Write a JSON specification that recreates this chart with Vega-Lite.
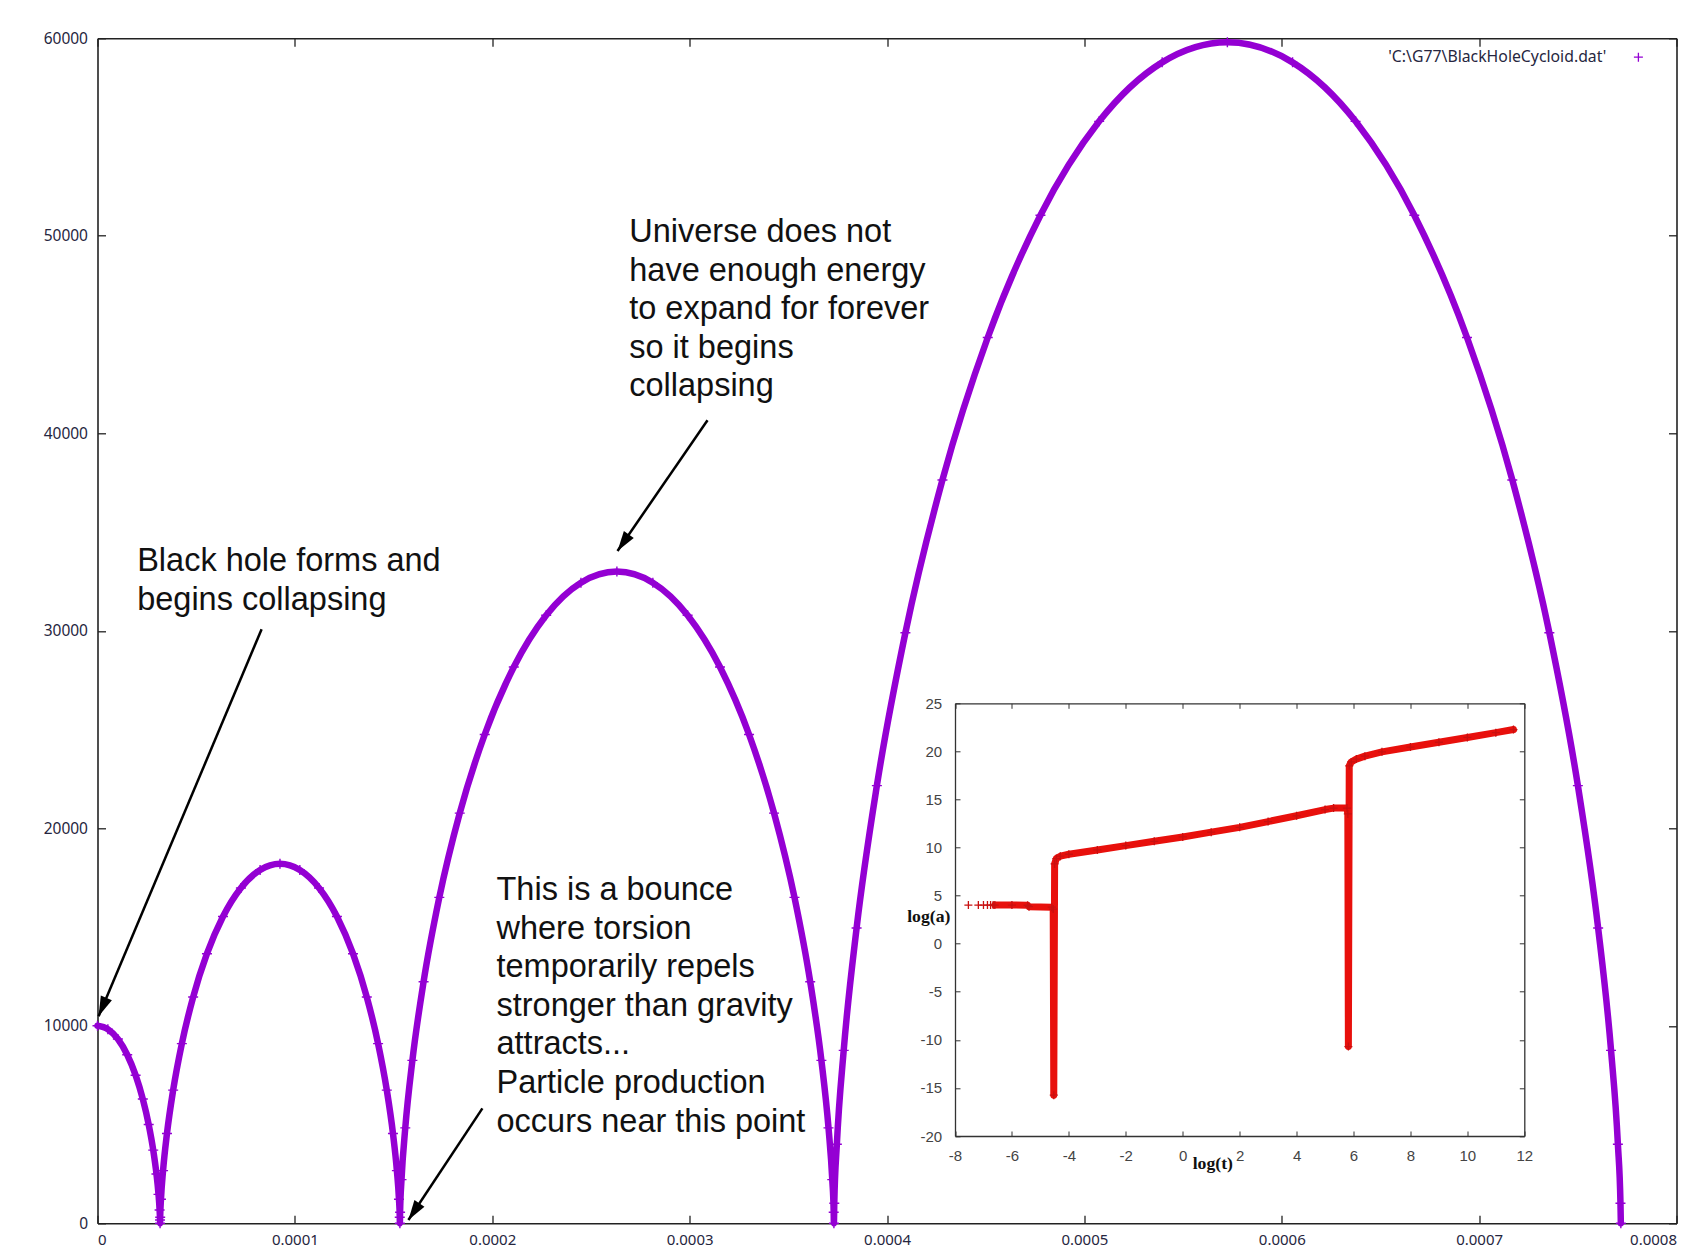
{
  "$schema": "https://vega.github.io/schema/vega-lite/v6.json",
  "width": 1579,
  "height": 1185,
  "autosize": {"type": "none"},
  "padding": {"left": 97.5, "top": 38.3, "right": 4.5, "bottom": 26.7},
  "background": "white",
  "config": {"view": {"stroke": null}, "axis": {"grid": false}},
  "datasets": {
    "cycloid": [
      {"t": 0, "a": 10000}, {"t": 5.253e-6, "a": 9829.6}, {"t": 1.0328e-5, "a": 9330.1}, {"t": 1.506e-5, "a": 8535.5},
      {"t": 1.9305e-5, "a": 7500}, {"t": 2.2955e-5, "a": 6294.1}, {"t": 2.594e-5, "a": 5000}, {"t": 2.8238e-5, "a": 3705.9},
      {"t": 2.9872e-5, "a": 2500}, {"t": 3.091e-5, "a": 1464.5}, {"t": 3.1462e-5, "a": 669.9}, {"t": 3.167e-5, "a": 170.4},
      {"t": 3.17e-5, "a": 0},
      {"t": 3.1758e-5, "a": 310.1}, {"t": 3.2156e-5, "a": 1219.2}, {"t": 3.3214e-5, "a": 2665.3}, {"t": 3.5203e-5, "a": 4550},
      {"t": 3.8334e-5, "a": 6744.7}, {"t": 4.2738e-5, "a": 9100}, {"t": 4.8459e-5, "a": 11455.3}, {"t": 5.5453e-5, "a": 13650},
      {"t": 6.3589e-5, "a": 15534.7}, {"t": 7.2656e-5, "a": 16980.8}, {"t": 8.2383e-5, "a": 17889.9}, {"t": 9.245e-5, "a": 18200},
      {"t": 1.02517e-4, "a": 17889.9}, {"t": 1.12244e-4, "a": 16980.8}, {"t": 1.21311e-4, "a": 15534.7}, {"t": 1.29447e-4, "a": 13650},
      {"t": 1.36441e-4, "a": 11455.3}, {"t": 1.42162e-4, "a": 9100}, {"t": 1.46566e-4, "a": 6744.7}, {"t": 1.49697e-4, "a": 4550},
      {"t": 1.51686e-4, "a": 2665.3}, {"t": 1.52744e-4, "a": 1219.2}, {"t": 1.53142e-4, "a": 310.1}, {"t": 1.532e-4, "a": 0},
      {"t": 1.53304e-4, "a": 562.2}, {"t": 1.54026e-4, "a": 2210.6}, {"t": 1.5594e-4, "a": 4832.8}, {"t": 1.59541e-4, "a": 8250},
      {"t": 1.65207e-4, "a": 12229.5}, {"t": 1.73177e-4, "a": 16500}, {"t": 1.83532e-4, "a": 20770.5}, {"t": 1.96191e-4, "a": 24750},
      {"t": 2.10915e-4, "a": 28167.2}, {"t": 2.27326e-4, "a": 30789.4}, {"t": 2.44929e-4, "a": 32437.8}, {"t": 2.6315e-4, "a": 33000},
      {"t": 2.81371e-4, "a": 32437.8}, {"t": 2.98974e-4, "a": 30789.4}, {"t": 3.15385e-4, "a": 28167.2}, {"t": 3.30109e-4, "a": 24750},
      {"t": 3.42768e-4, "a": 20770.5}, {"t": 3.53123e-4, "a": 16500}, {"t": 3.61093e-4, "a": 12229.5}, {"t": 3.66759e-4, "a": 8250},
      {"t": 3.7036e-4, "a": 4832.8}, {"t": 3.72274e-4, "a": 2210.6}, {"t": 3.72996e-4, "a": 562.2}, {"t": 3.731e-4, "a": 0},
      {"t": 3.73289e-4, "a": 1018.8}, {"t": 3.74598e-4, "a": 4005.8}, {"t": 3.78068e-4, "a": 8757.5}, {"t": 3.84596e-4, "a": 14950},
      {"t": 3.9487e-4, "a": 22161.3}, {"t": 4.0932e-4, "a": 29900}, {"t": 4.28095e-4, "a": 37638.7}, {"t": 4.51046e-4, "a": 44850},
      {"t": 4.77743e-4, "a": 51042.5}, {"t": 5.07498e-4, "a": 55794.2}, {"t": 5.39414e-4, "a": 58781.2}, {"t": 5.7245e-4, "a": 59800},
      {"t": 6.05486e-4, "a": 58781.2}, {"t": 6.37402e-4, "a": 55794.2}, {"t": 6.67157e-4, "a": 51042.5}, {"t": 6.93854e-4, "a": 44850},
      {"t": 7.16805e-4, "a": 37638.7}, {"t": 7.3558e-4, "a": 29900}, {"t": 7.5003e-4, "a": 22161.3}, {"t": 7.60304e-4, "a": 14950},
      {"t": 7.66832e-4, "a": 8757.5}, {"t": 7.70302e-4, "a": 4005.8}, {"t": 7.71611e-4, "a": 1018.8}, {"t": 7.718e-4, "a": 0}
    ],
    "inset": [
      {"lt": -7.53, "la": 4.02}, {"lt": -7.18, "la": 4.02}, {"lt": -7.0, "la": 4.02}, {"lt": -6.86, "la": 4.02},
      {"lt": -6.75, "la": 4.02}, {"lt": -6.66, "la": 4.02},
      {"lt": -6.6, "la": 4.02}, {"lt": -6.0, "la": 4.02}, {"lt": -5.45, "la": 4.0}, {"lt": -5.4, "la": 3.85},
      {"lt": -4.6, "la": 3.8}, {"lt": -4.55, "la": 3.6}, {"lt": -4.53, "la": -15.75}, {"lt": -4.5, "la": 8.3},
      {"lt": -4.44, "la": 8.85}, {"lt": -4.3, "la": 9.1}, {"lt": -4.0, "la": 9.3}, {"lt": -3, "la": 9.75},
      {"lt": -2, "la": 10.2}, {"lt": -1, "la": 10.65}, {"lt": 0, "la": 11.1}, {"lt": 1, "la": 11.6},
      {"lt": 2, "la": 12.1}, {"lt": 3, "la": 12.7}, {"lt": 4, "la": 13.3}, {"lt": 5, "la": 13.95},
      {"lt": 5.3, "la": 14.1}, {"lt": 5.77, "la": 14.1}, {"lt": 5.8, "la": 13.5}, {"lt": 5.82, "la": -10.7},
      {"lt": 5.85, "la": 18.5}, {"lt": 5.92, "la": 18.9}, {"lt": 6.1, "la": 19.2}, {"lt": 6.4, "la": 19.5},
      {"lt": 7, "la": 19.95}, {"lt": 8, "la": 20.45}, {"lt": 9, "la": 20.95}, {"lt": 10, "la": 21.45},
      {"lt": 11, "la": 21.95}, {"lt": 11.62, "la": 22.27}
    ]
  },
  "layer": [
    {
      "data": {"name": "cycloid"},
      "layer": [
        {
          "mark": {"type": "line", "color": "#9400d3", "strokeWidth": 6.5, "interpolate": "monotone", "strokeCap": "round", "strokeJoin": "round"},
          "encoding": {
            "x": {"field": "t", "type": "quantitative",
              "scale": {"domain": [0, 0.0008], "nice": false, "zero": false},
              "axis": {"orient": "bottom", "values": [0, 0.0001, 0.0002, 0.0003, 0.0004, 0.0005, 0.0006, 0.0007, 0.0008],
                "format": "~g", "title": null, "tickSize": -8, "labelPadding": 17, "labelFont": "Noto Sans", "labelFontSize": 15,
                "labelColor": "#262640", "domainColor": "#222222", "domainWidth": 1.6, "tickColor": "#222222", "tickWidth": 1.3,
                "labelFlush": true, "labelOverlap": false}},
            "y": {"field": "a", "type": "quantitative",
              "scale": {"domain": [0, 60000], "nice": false, "zero": false},
              "axis": {"orient": "left", "values": [0, 10000, 20000, 30000, 40000, 50000, 60000],
                "format": "d", "title": null, "tickSize": -8, "labelPadding": 18, "labelFont": "Noto Sans", "labelFontSize": 15.5,
                "labelColor": "#262640", "domainColor": "#222222", "domainWidth": 1.6, "tickColor": "#222222", "tickWidth": 1.3,
                "labelFlush": false, "labelOverlap": false}}
          }
        },
        {
          "mark": {"type": "point", "shape": "M-1,0H1M0,-1V1", "filled": false, "size": 100, "strokeWidth": 1.4, "opacity": 1},
          "encoding": {
            "x": {"field": "t", "type": "quantitative",
              "scale": {"domain": [0, 0.0008], "nice": false, "zero": false},
              "axis": {"orient": "top", "values": [0, 0.0001, 0.0002, 0.0003, 0.0004, 0.0005, 0.0006, 0.0007, 0.0008],
                "labels": false, "title": null, "tickSize": -8, "domainColor": "#222222", "domainWidth": 1.6, "tickColor": "#222222", "tickWidth": 1.3}},
            "y": {"field": "a", "type": "quantitative",
              "scale": {"domain": [0, 60000], "nice": false, "zero": false},
              "axis": {"orient": "right", "values": [0, 10000, 20000, 30000, 40000, 50000, 60000],
                "labels": false, "title": null, "tickSize": -8, "domainColor": "#222222", "domainWidth": 1.6, "tickColor": "#222222", "tickWidth": 1.3}},
            "color": {"datum": "'C:\\G77\\BlackHoleCycloid.dat'", "type": "nominal",
              "scale": {"range": ["#9400d3"]},
              "legend": {"orient": "none", "legendX": 1533, "legendY": 11, "title": null, "padding": 0,
                "labelAlign": "right", "labelOffset": -40, "labelFont": "Noto Sans", "labelFontSize": 15.8,
                "labelColor": "#262640", "labelLimit": 400, "symbolType": "M-1,0H1M0,-1V1", "symbolSize": 81,
                "symbolStrokeWidth": 1.3, "symbolStrokeColor": "#9400d3", "symbolFillColor": "transparent"}}
          }
        },
        {
          "data": {"values": [{}]},
          "mark": {"type": "text", "text": ["Black hole forms and", "begins collapsing"], "align": "left", "baseline": "alphabetic",
            "font": "Liberation Sans", "fontSize": 32.5, "lineHeight": 38.6, "color": "#111111"},
          "encoding": {"x": {"datum": 2.01e-5, "type": "quantitative", "axis": null}, "y": {"datum": 33027, "type": "quantitative", "axis": null}}
        },
        {
          "data": {"values": [{}]},
          "mark": {"type": "text", "text": ["Universe does not", "have enough energy", "to expand for forever", "so it begins", "collapsing"],
            "align": "left", "baseline": "alphabetic", "font": "Liberation Sans", "fontSize": 32.5, "lineHeight": 38.6, "color": "#111111"},
          "encoding": {"x": {"datum": 2.694e-4, "type": "quantitative", "axis": null}, "y": {"datum": 49687, "type": "quantitative", "axis": null}}
        },
        {
          "data": {"values": [{}]},
          "mark": {"type": "text", "text": ["This is a bounce", "where torsion", "temporarily repels", "stronger than gravity", "attracts...", "Particle production", "occurs near this point"],
            "align": "left", "baseline": "alphabetic", "font": "Liberation Sans", "fontSize": 32.5, "lineHeight": 38.6, "color": "#111111"},
          "encoding": {"x": {"datum": 2.0215e-4, "type": "quantitative", "axis": null}, "y": {"datum": 16370, "type": "quantitative", "axis": null}}
        },
        {
          "data": {"values": [{}]},
          "mark": {"type": "rule", "color": "#000000", "strokeWidth": 2.5},
          "encoding": {"x": {"datum": 8.314e-5, "type": "quantitative", "axis": null}, "y": {"datum": 30076, "type": "quantitative", "axis": null},
            "x2": {"datum": 5.6e-7}, "y2": {"datum": 10481}}
        },
        {
          "data": {"values": [{}]},
          "mark": {"type": "rule", "color": "#000000", "strokeWidth": 2.5},
          "encoding": {"x": {"datum": 3.0906e-4, "type": "quantitative", "axis": null}, "y": {"datum": 40663, "type": "quantitative", "axis": null},
            "x2": {"datum": 2.6346e-4}, "y2": {"datum": 34041}}
        },
        {
          "data": {"values": [{}]},
          "mark": {"type": "rule", "color": "#000000", "strokeWidth": 2.5},
          "encoding": {"x": {"datum": 1.9501e-4, "type": "quantitative", "axis": null}, "y": {"datum": 5818, "type": "quantitative", "axis": null},
            "x2": {"datum": 1.5752e-4}, "y2": {"datum": 167}}
        },
        {
          "data": {"values": [{}]},
          "mark": {"type": "point", "shape": "M0,0L0.6,2L-0.6,2Z", "filled": true, "color": "#000000", "size": 400, "angle": 202.8, "opacity": 1, "strokeWidth": 0},
          "encoding": {"x": {"datum": 5.6e-7, "type": "quantitative", "axis": null}, "y": {"datum": 10481, "type": "quantitative", "axis": null}}
        },
        {
          "data": {"values": [{}]},
          "mark": {"type": "point", "shape": "M0,0L0.6,2L-0.6,2Z", "filled": true, "color": "#000000", "size": 400, "angle": 214.5, "opacity": 1, "strokeWidth": 0},
          "encoding": {"x": {"datum": 2.6346e-4, "type": "quantitative", "axis": null}, "y": {"datum": 34041, "type": "quantitative", "axis": null}}
        },
        {
          "data": {"values": [{}]},
          "mark": {"type": "point", "shape": "M0,0L0.6,2L-0.6,2Z", "filled": true, "color": "#000000", "size": 400, "angle": 213.5, "opacity": 1, "strokeWidth": 0},
          "encoding": {"x": {"datum": 1.5752e-4, "type": "quantitative", "axis": null}, "y": {"datum": 167, "type": "quantitative", "axis": null}}
        }
      ],
      "resolve": {"axis": {"x": "independent", "y": "independent"}}
    },
    {
      "data": {"name": "inset"},
      "layer": [
        {
          "transform": [{"filter": "datum.lt >= -6.6"}],
          "mark": {"type": "line", "color": "#e8100c", "strokeWidth": 7, "interpolate": "linear", "strokeCap": "round", "strokeJoin": "round"},
          "encoding": {
            "x": {"field": "lt", "type": "quantitative",
              "scale": {"domain": [-8, 12], "nice": false, "zero": false, "range": [857.5, 1426.8]},
              "axis": {"orient": "bottom", "offset": -87.3, "values": [-8, -6, -4, -2, 0, 2, 4, 6, 8, 10, 12],
                "labelExpr": "'' + datum.value",
                "tickSize": -5, "labelPadding": 17, "labelFont": "Liberation Sans", "labelFontSize": 15, "labelColor": "#444444",
                "domainColor": "#333333", "domainWidth": 1.3, "tickColor": "#333333", "tickWidth": 1,
                "labelFlush": false, "labelOverlap": false,
                "title": "log(t)", "titleFont": "Liberation Serif", "titleFontWeight": "bold", "titleFontSize": 17.7, "titleColor": "#111111",
                "titleX": 1114.8, "titleY": 27.3, "titleAlign": "center", "titleBaseline": "middle", "titleAngle": 0}},
            "y": {"field": "la", "type": "quantitative",
              "scale": {"domain": [-20, 25], "nice": false, "zero": false, "range": [1097.7, 665]},
              "axis": {"orient": "left", "offset": -857.5, "values": [-20, -15, -10, -5, 0, 5, 10, 15, 20, 25],
                "labelExpr": "'' + datum.value",
                "tickSize": -5, "labelPadding": 18.3, "labelFont": "Liberation Sans", "labelFontSize": 15, "labelColor": "#444444",
                "domainColor": "#333333", "domainWidth": 1.3, "tickColor": "#333333", "tickWidth": 1,
                "labelFlush": false, "labelOverlap": false,
                "title": "log(a)", "titleFont": "Liberation Serif", "titleFontWeight": "bold", "titleFontSize": 17.7, "titleColor": "#111111",
                "titleX": -26.7, "titleY": 878.4, "titleAlign": "center", "titleBaseline": "middle", "titleAngle": 0}}
          }
        },
        {
          "mark": {"type": "point", "shape": "M-1,0H1M0,-1V1", "filled": false, "size": 64, "strokeWidth": 1.3, "color": "#c81010", "opacity": 1},
          "encoding": {
            "x": {"field": "lt", "type": "quantitative",
              "scale": {"domain": [-8, 12], "nice": false, "zero": false, "range": [857.5, 1426.8]},
              "axis": {"orient": "top", "offset": -665, "values": [-8, -6, -4, -2, 0, 2, 4, 6, 8, 10, 12],
                "labels": false, "title": null, "tickSize": -5, "domainColor": "#333333", "domainWidth": 1.3, "tickColor": "#333333", "tickWidth": 1}},
            "y": {"field": "la", "type": "quantitative",
              "scale": {"domain": [-20, 25], "nice": false, "zero": false, "range": [1097.7, 665]},
              "axis": {"orient": "right", "offset": -152.2, "values": [-20, -15, -10, -5, 0, 5, 10, 15, 20, 25],
                "labels": false, "title": null, "tickSize": -5, "domainColor": "#333333", "domainWidth": 1.3, "tickColor": "#333333", "tickWidth": 1}}
          }
        }
      ],
      "resolve": {"axis": {"x": "independent", "y": "independent"}}
    }
  ],
  "resolve": {"scale": {"x": "independent", "y": "independent"}, "axis": {"x": "independent", "y": "independent"}}
}
